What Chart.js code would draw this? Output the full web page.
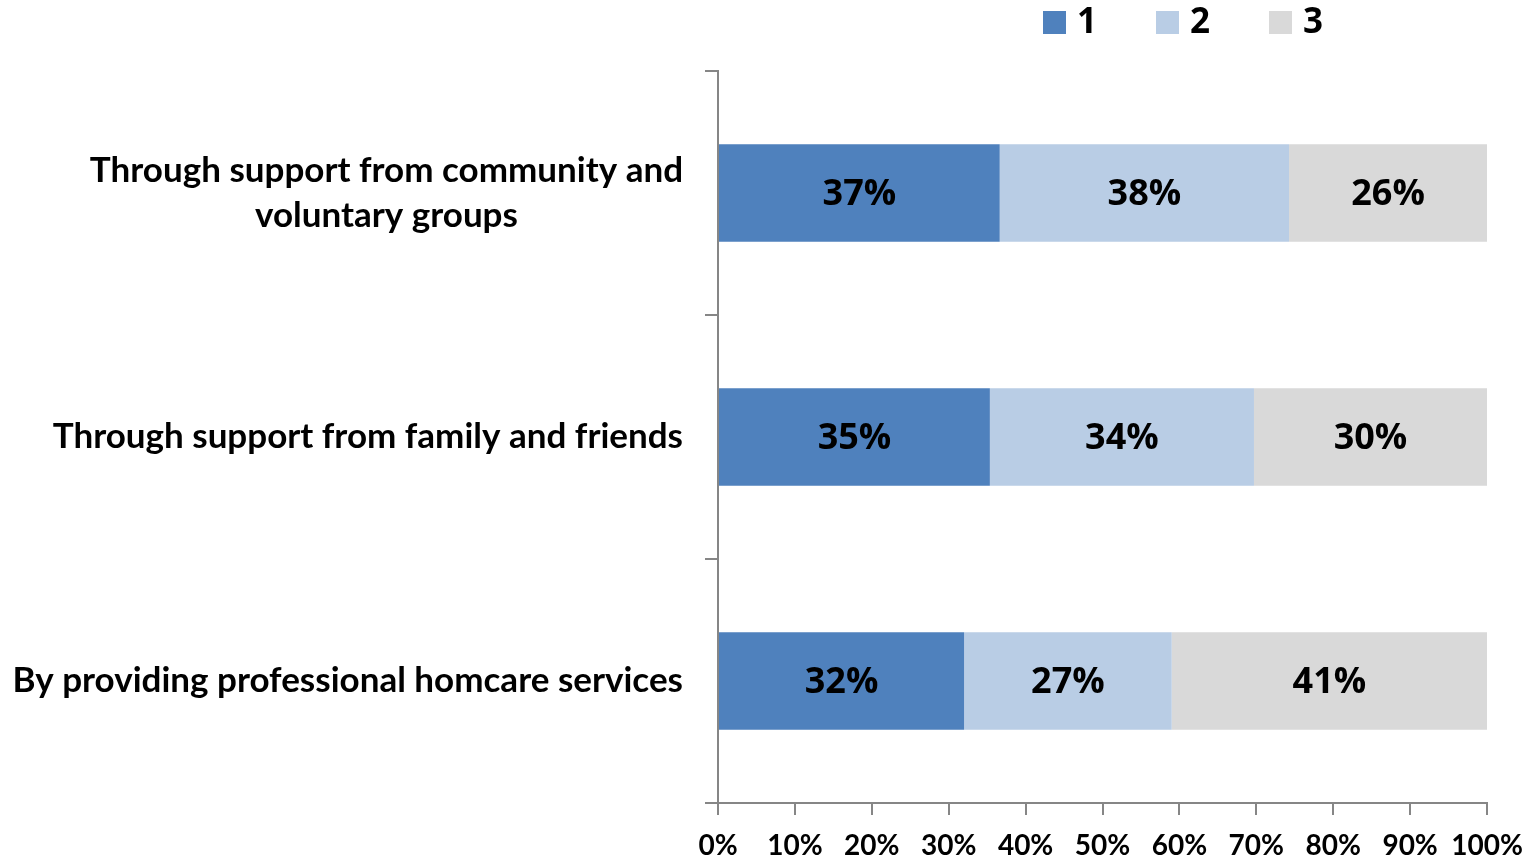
<!DOCTYPE html>
<html>
<head>
<meta charset="utf-8">
<script src="https://cdn.jsdelivr.net/npm/chart.js@4.4.1/dist/chart.umd.min.js"></script>
<style>
  html, body { margin: 0; padding: 0; background: #fff; }
  #wrap { position: relative; width: 1530px; height: 860px; }
</style>
</head>
<body>
<div id="wrap"><canvas id="chart"></canvas></div>
<script>
// categories, top to bottom
const categories = [
  ['Through support from community and', 'voluntary groups'],
  ['Through support from family and friends'],
  ['By providing professional homcare services']
];
const seriesNames = ['1', '2', '3'];
const values1 = [37, 35, 32];
const values2 = [38, 34, 27];
const values3 = [26, 30, 41];
const seriesColors = ['#4F81BD', '#B9CDE5', '#D9D9D9'];
const xTicks = [0, 10, 20, 30, 40, 50, 60, 70, 80, 90, 100];

const rawSeries = [values1, values2, values3];
// 100% stacked: each row is scaled to its own total
const totals = categories.map((_, i) => rawSeries.reduce((s, arr) => s + arr[i], 0));

const AXIS = '#868686';
const LATO = 'Lato, "Open Sans", sans-serif';
const SANS = '"Open Sans", sans-serif';

// category labels: right edge next to the axis, lines centred on each other
const catLabels = {
  id: 'catLabels',
  afterDraw(chart) {
    const { ctx } = chart;
    const y = chart.scales.y;
    const right = chart.chartArea.left - 35;
    const lh = 45;
    ctx.save();
    ctx.font = 'bold 35px ' + LATO;
    ctx.fillStyle = '#000';
    ctx.textAlign = 'center';
    ctx.textBaseline = 'middle';
    categories.forEach((lines, i) => {
      const cy = y.getPixelForValue(i);
      const widest = Math.max(...lines.map(l => ctx.measureText(l).width));
      const cx = right - widest / 2;
      const y0 = cy - (lines.length - 1) * lh / 2;
      lines.forEach((l, k) => ctx.fillText(l, cx, y0 + k * lh));
    });
    ctx.restore();
  }
};

// value labels inside the segments
const valueLabels = {
  id: 'valueLabels',
  afterDatasetsDraw(chart) {
    const { ctx } = chart;
    ctx.save();
    ctx.font = 'bold 36px ' + SANS;
    ctx.fillStyle = '#000';
    ctx.textAlign = 'center';
    ctx.textBaseline = 'middle';
    chart.data.datasets.forEach((ds, d) => {
      chart.getDatasetMeta(d).data.forEach((bar, i) => {
        const p = bar.getCenterPoint();
        ctx.fillText(ds.raw[i] + '%', p.x, p.y + 2);
      });
    });
    ctx.restore();
  }
};

// legend row above the plot
const topLegend = {
  id: 'topLegend',
  afterDraw(chart) {
    const { ctx } = chart;
    ctx.save();
    ctx.font = 'bold 35px ' + SANS;
    ctx.textBaseline = 'middle';
    chart.data.datasets.forEach((ds, d) => {
      const x = 1043 + d * 113;
      ctx.fillStyle = ds.backgroundColor;
      ctx.fillRect(x, 11, 23, 23);
      ctx.fillStyle = '#000';
      ctx.fillText(ds.label, x + 34, 23);
    });
    ctx.restore();
  }
};

new Chart(document.getElementById('chart'), {
  type: 'bar',
  data: {
    labels: categories.map(c => c.join(' ')),
    datasets: rawSeries.map((arr, d) => ({
      label: seriesNames[d],
      raw: arr,
      data: arr.map((v, i) => v / totals[i] * 100),
      backgroundColor: seriesColors[d],
      borderWidth: 0,
      barPercentage: 0.4,
      categoryPercentage: 1
    }))
  },
  options: {
    indexAxis: 'y',
    responsive: true,
    maintainAspectRatio: false,
    animation: false,
    layout: { padding: { top: 71, right: 43, left: 0, bottom: 0 } },
    plugins: { legend: { display: false }, tooltip: { enabled: false } },
    scales: {
      x: {
        stacked: true,
        min: 0, max: 100,
        afterBuildTicks(scale) { scale.ticks = xTicks.map(v => ({ value: v })); },
        ticks: {
          callback: v => v + '%',
          color: '#000',
          padding: 14,
          maxRotation: 0,
          autoSkip: false,
          font: { family: LATO, size: 28, weight: 'bold' }
        },
        grid: { drawOnChartArea: false, color: AXIS, lineWidth: 2, tickLength: 12 },
        border: { color: AXIS, width: 2 },
        afterFit(scale) {
          scale.height = 57;
          scale.paddingLeft = 0;
          scale.paddingRight = 0;
        }
      },
      y: {
        stacked: true,
        offset: true,
        ticks: { display: false },
        grid: { offset: true, drawOnChartArea: false, color: AXIS, lineWidth: 2, tickLength: 13 },
        border: { color: AXIS, width: 2 },
        afterFit(scale) { scale.width = 718; }
      }
    }
  },
  plugins: [catLabels, valueLabels, topLegend]
});
</script>
</body>
</html>
